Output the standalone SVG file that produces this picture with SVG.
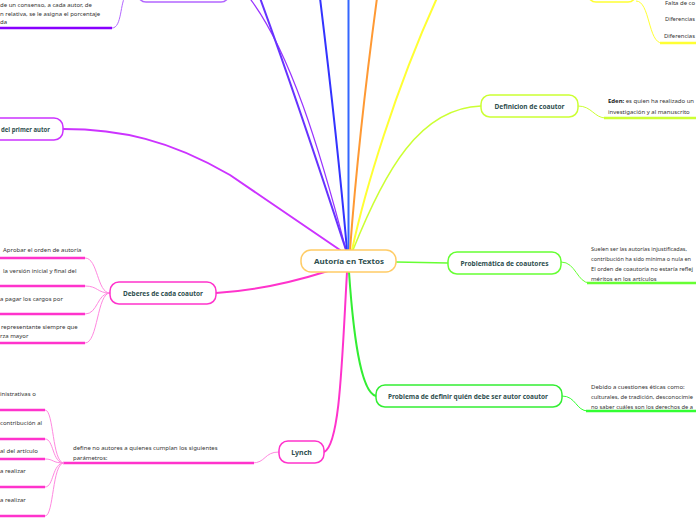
<svg xmlns="http://www.w3.org/2000/svg" width="696" height="520" viewBox="0 0 696 520">
<style>
.node{fill:#fff;stroke-width:1.5}
.nt{font-family:"Noto Sans","Open Sans",sans-serif;font-weight:bold;fill:#2f4f4f;font-size:7px}
.dt{font-family:"Noto Sans","Open Sans",sans-serif;fill:#333;font-size:6px}
.c{fill:none;stroke-linecap:round}
.ul{fill:none;stroke-width:2.5}
.br{fill:none;stroke-width:1}
</style>
<rect width="696" height="520" fill="#fff"/>
<g id="connectors">
  <path class="c" d="M346 250 C320 150 290 50 248 -4" stroke="#9933ff" stroke-width="1.2"/>
  <path class="c" d="M346 250 C320 170 290 80 260 -2" stroke="#6633ff" stroke-width="2"/>
  <path class="c" d="M347 250 C340 170 330 80 320 -2" stroke="#3333ff" stroke-width="2"/>
  <path class="c" d="M348.5 250 L348.5 -2" stroke="#3366ff" stroke-width="2"/>
  <path class="c" d="M350 250 C356 170 366 80 377 -2" stroke="#ff9933" stroke-width="2"/>
  <path class="c" d="M352 250 C365 190 395 90 437 -2" stroke="#ffff33" stroke-width="2"/>
  <path class="c" d="M353 250 C385 170 420 108 481 106" stroke="#ccff33" stroke-width="1.5"/>
  <path class="c" d="M63 129 C120 129 170 140 230 175 L340 250" stroke="#cc33ff" stroke-width="2"/>
  <path class="c" d="M328 271 C290 283 250 291 216 293" stroke="#ff33cc" stroke-width="2"/>
  <path class="c" d="M396 262 L448 263" stroke="#66ff33" stroke-width="1.5"/>
  <path class="c" d="M349 272 C353 330 360 392 376 396" stroke="#33ee33" stroke-width="2"/>
  <path class="c" d="M347 272 C342 360 340 445 324 452" stroke="#ff33cc" stroke-width="2"/>
  <path class="br" d="M112 28 C122 28 120 2 126 -5" stroke="#b366ff"/>
  <path class="ul" d="M0 28 L112 28" stroke="#8800ff"/>
  <path class="br" d="M636 1 C650 1 648 43 662 43" stroke="#ffff33"/>
  <path class="ul" d="M660 43 L696 43" stroke="#ffff33"/>
  <path class="br" d="M578 106 C592 106 594 118 606 118" stroke="#ccff33"/>
  <path class="ul" d="M604 118 L696 118" stroke="#ccff33"/>
  <path class="br" d="M561 262 C576 262 577 283 590 283" stroke="#66ff33"/>
  <path class="ul" d="M587 283 L696 283" stroke="#66ff33"/>
  <path class="br" d="M562 396 C576 396 576 411 588 411" stroke="#33ff33"/>
  <path class="ul" d="M586 411 L696 411" stroke="#33ff33"/>
  <path class="br" d="M110 293 C97 293 98 258 85 258" stroke="#ff88e0"/>
  <path class="br" d="M110 293 C97 293 98 286 85 286" stroke="#ff88e0"/>
  <path class="br" d="M110 293 C97 293 98 314 85 314" stroke="#ff88e0"/>
  <path class="br" d="M110 293 C97 293 98 343 85 343" stroke="#ff88e0"/>
  <path class="ul" d="M0 258 L85 258 M0 286 L85 286 M0 314 L85 314 M0 343 L85 343" stroke="#ff33cc"/>
  <path class="br" d="M279 452 C264 452 266 463 252 463" stroke="#ff88e0"/>
  <path class="ul" d="M63 463 L254 463" stroke="#ff33cc"/>
  <path class="br" d="M64 463 C52 463 54 410 45 410" stroke="#ff88e0"/>
  <path class="br" d="M64 463 C52 463 54 439 45 439" stroke="#ff88e0"/>
  <path class="br" d="M64 463 C52 463 54 459 45 459" stroke="#ff88e0"/>
  <path class="br" d="M64 463 C52 463 54 487 45 487" stroke="#ff88e0"/>
  <path class="br" d="M64 463 C52 463 54 516 45 516" stroke="#ff88e0"/>
  <path class="ul" d="M0 410 L45 410 M0 439 L45 439 M0 459 L45 459 M0 487 L45 487 M0 516 L45 516" stroke="#ff33cc"/>
</g>
<g id="center">
  <rect class="node" x="301" y="250" width="95" height="22" rx="10" stroke="#ffcc66"/>
  <text class="nt" x="349" y="264" text-anchor="middle" font-size="9" textLength="70" lengthAdjust="spacingAndGlyphs">Autoría en Textos</text>
</g>
<g id="top-purple">
  <rect class="node" x="138" y="-20" width="91" height="22" rx="8" stroke="#b366ff"/>
</g>
<g id="top-yellow">
  <rect class="node" x="588" y="-20" width="48" height="22" rx="8" stroke="#ffff33"/>
</g>
<g id="top-left-detail">
  <text class="dt" x="0" y="7">de un consenso, a cada autor, de</text>
  <text class="dt" x="0" y="16">n relativa, se le asigna el porcentaje</text>
  <text class="dt" x="0" y="24">da</text>
</g>
<g id="top-right-detail">
  <text class="dt" x="665" y="5" textLength="30" lengthAdjust="spacingAndGlyphs">Falta de co</text>
  <text class="dt" x="665" y="21" textLength="30" lengthAdjust="spacingAndGlyphs">Diferencias</text>
  <text class="dt" x="664" y="38" textLength="31" lengthAdjust="spacingAndGlyphs">Diferencias</text>
</g>
<g id="primer-autor">
  <rect class="node" x="-40" y="118" width="103" height="22" rx="9" stroke="#cc33ff"/>
  <text class="nt" x="1" y="132" textLength="49" lengthAdjust="spacingAndGlyphs">del primer autor</text>
</g>
<g id="definicion">
  <rect class="node" x="481" y="95" width="97" height="22" rx="9" stroke="#ccff33"/>
  <text class="nt" x="529.5" y="109" text-anchor="middle" textLength="70" lengthAdjust="spacingAndGlyphs">Definicion de coautor</text>
  <text class="dt" x="608" y="103" textLength="86" lengthAdjust="spacingAndGlyphs"><tspan font-weight="bold" fill="#222">Eden:</tspan> es quien ha realizado un</text>
  <text class="dt" x="608" y="114">investigación y al manuscrito</text>
</g>
<g id="problematica">
  <rect class="node" x="448" y="252" width="113" height="22" rx="9" stroke="#66ff33"/>
  <text class="nt" x="504.5" y="266" text-anchor="middle" textLength="88" lengthAdjust="spacingAndGlyphs">Problemática de coautores</text>
  <text class="dt" x="591" y="251" textLength="96" lengthAdjust="spacingAndGlyphs">Suelen ser las autorías injustificadas,</text>
  <text class="dt" x="591" y="261" font-size="5.6" textLength="100" lengthAdjust="spacingAndGlyphs">contribución ha sido mínima o nula en</text>
  <text class="dt" x="591" y="271" textLength="102" lengthAdjust="spacingAndGlyphs">El orden de coautoría no estaría reflej</text>
  <text class="dt" x="591" y="281">méritos en los artículos</text>
</g>
<g id="problema-definir">
  <rect class="node" x="376" y="385" width="186" height="22" rx="9" stroke="#33ee33"/>
  <text class="nt" x="468" y="399" text-anchor="middle" textLength="160" lengthAdjust="spacingAndGlyphs">Problema de definir quién debe ser autor coautor</text>
  <text class="dt" x="591" y="389">Debido a cuestiones éticas como:</text>
  <text class="dt" x="591" y="399" textLength="102" lengthAdjust="spacingAndGlyphs">culturales, de tradición, desconocimie</text>
  <text class="dt" x="591" y="409" textLength="102" lengthAdjust="spacingAndGlyphs">no saber cuáles son los derechos de a</text>
</g>
<g id="deberes">
  <rect class="node" x="110" y="282" width="106" height="22" rx="9" stroke="#ff33cc"/>
  <text class="nt" x="163" y="296" text-anchor="middle" textLength="80" lengthAdjust="spacingAndGlyphs">Deberes de cada coautor</text>
  <text class="dt" x="3" y="252">Aprobar el orden de autoría</text>
  <text class="dt" x="3" y="273">la versión inicial y final del</text>
  <text class="dt" x="0" y="301">a pagar los cargos por</text>
  <text class="dt" x="1" y="329">representante siempre que</text>
  <text class="dt" x="0" y="338">rza mayor</text>
</g>
<g id="lynch">
  <rect class="node" x="279" y="441" width="45" height="22" rx="9" stroke="#ff33cc"/>
  <text class="nt" x="301.5" y="455" text-anchor="middle">Lynch</text>
  <text class="dt" x="73" y="450">define no autores a quienes cumplan los siguientes</text>
  <text class="dt" x="73" y="460">parámetros:</text>
  <text class="dt" x="0" y="396">inistrativas o</text>
  <text class="dt" x="0" y="425">contribución al</text>
  <text class="dt" x="0" y="453">al del artículo</text>
  <text class="dt" x="0" y="473">a realizar</text>
  <text class="dt" x="0" y="502">a realizar</text>
</g>
</svg>
